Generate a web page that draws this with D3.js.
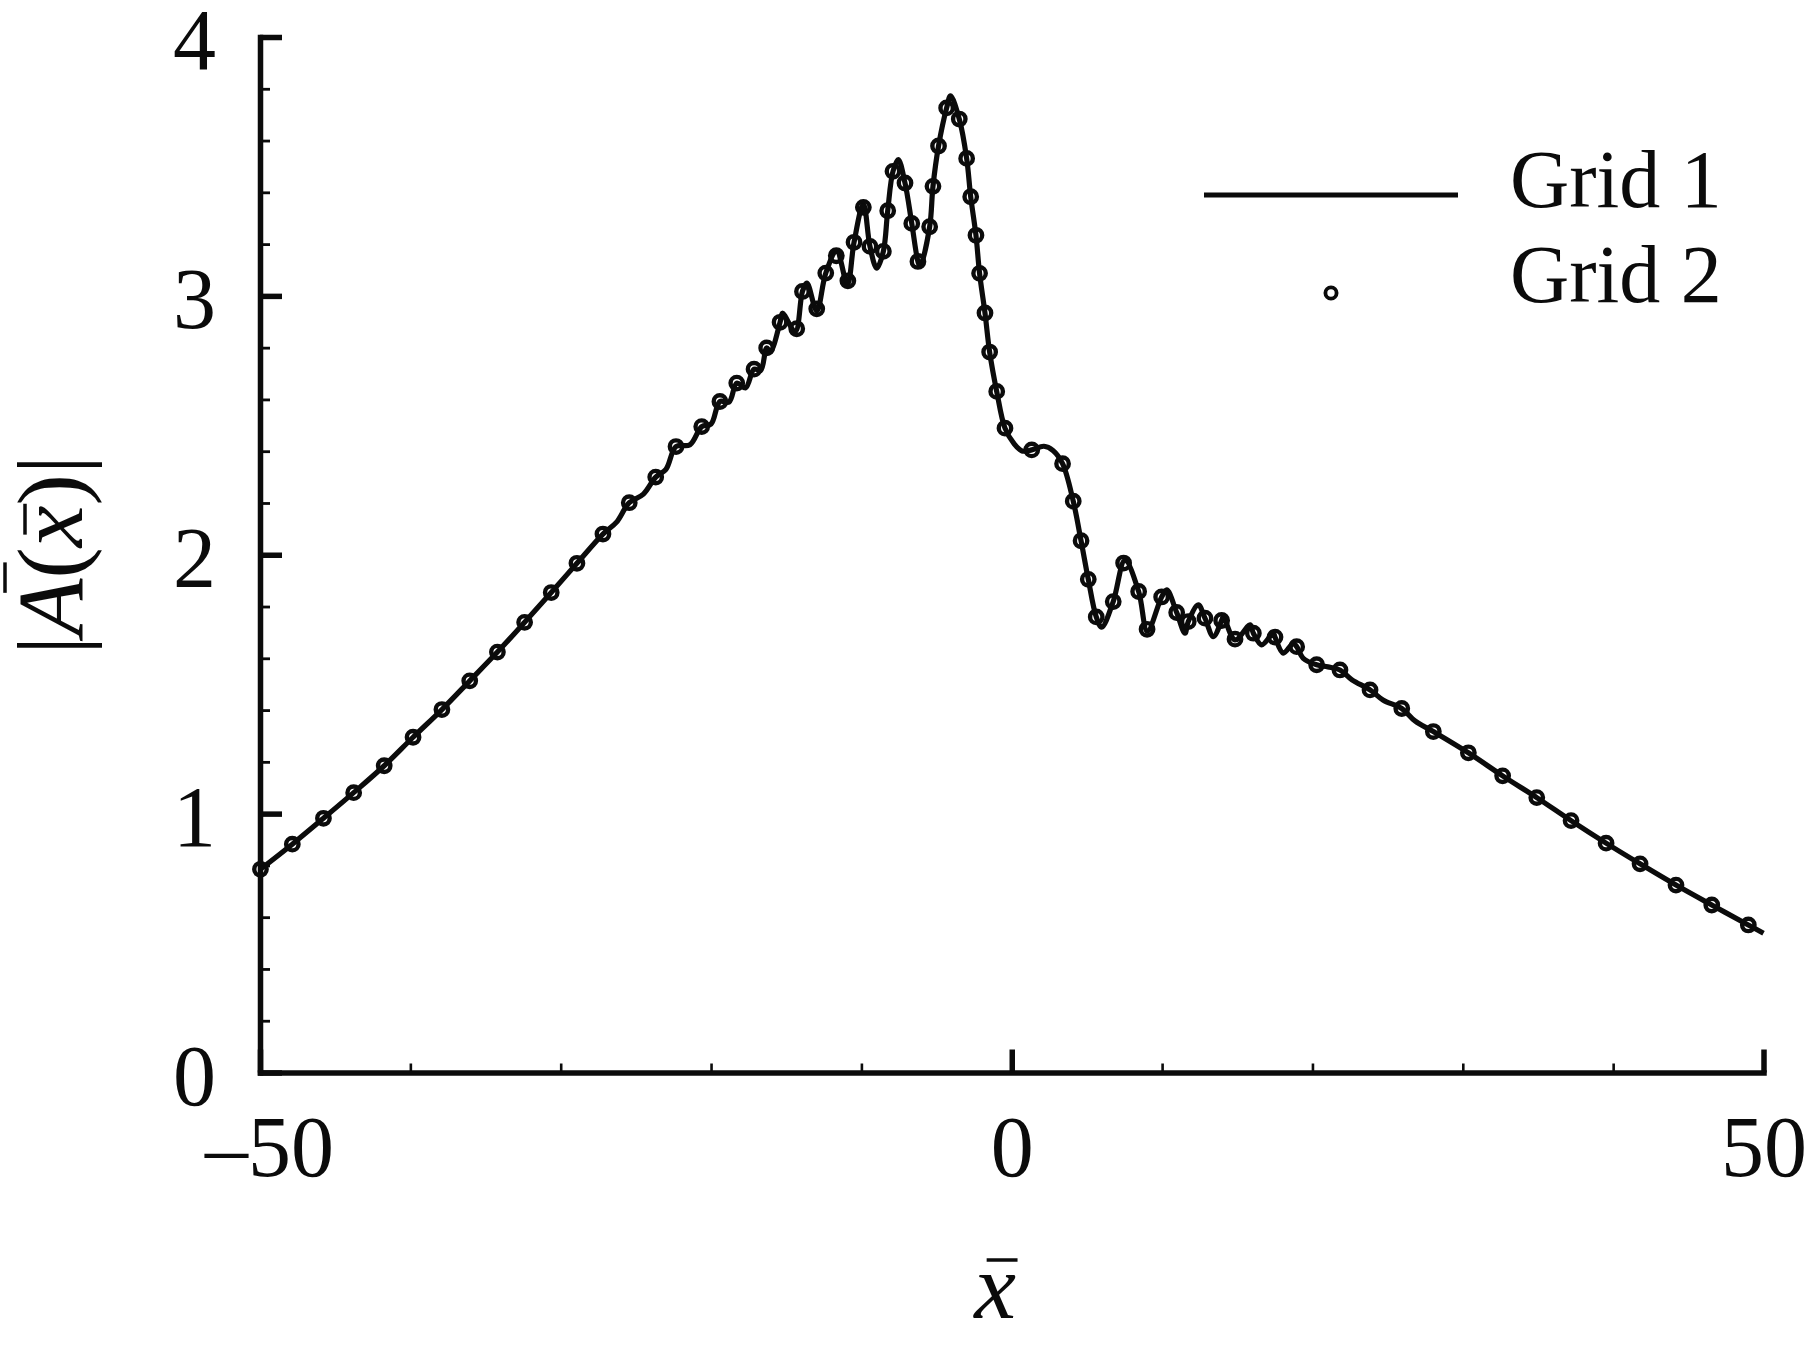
<!DOCTYPE html>
<html>
<head>
<meta charset="utf-8">
<script src="https://cdn.jsdelivr.net/npm/d3@7"></script>
<style>
  html, body { margin: 0; padding: 0; background: #fff; }
  svg { display: block; }
</style>
</head>
<body>
<svg id="chart" width="1805" height="1347"></svg>
<script>
// |A(x)| along x, two grids
const X_DOMAIN = [-50, 50];
const Y_DOMAIN = [0, 4];
const X_MAJOR = [-50, 0, 50];
const X_MINOR = [-40, -30, -20, -10, 10, 20, 30, 40];
const Y_MAJOR = [0, 1, 2, 3, 4];
const Y_MINOR = [0.2, 0.4, 0.6, 0.8, 1.2, 1.4, 1.6, 1.8, 2.2, 2.4, 2.6, 2.8, 3.2, 3.4, 3.6, 3.8];
const SERIES_NAMES = ['Grid 1', 'Grid 2'];

// Grid 1: continuous line
const GRID1 = [
  [-50.00, 0.784], [-47.85, 0.882], [-45.78, 0.982], [-43.77, 1.081], [-41.74, 1.185],
  [-39.82, 1.295], [-37.90, 1.402], [-36.05, 1.513], [-34.21, 1.624], [-32.40, 1.739],
  [-30.63, 1.854], [-28.92, 1.967], [-27.19, 2.080], [-26.30, 2.125], [-25.44, 2.201],
  [-24.50, 2.234], [-23.68, 2.300], [-23.00, 2.330], [-22.33, 2.418], [-21.40, 2.425],
  [-20.62, 2.495], [-20.00, 2.505], [-19.41, 2.592], [-18.80, 2.590], [-18.29, 2.663],
  [-17.70, 2.645], [-17.14, 2.717], [-16.70, 2.712], [-16.30, 2.799], [-16.05, 2.785],
  [-15.41, 2.898], [-15.25, 2.933], [-14.40, 2.862], [-13.92, 3.017], [-13.62, 3.049],
  [-12.97, 2.942], [-12.37, 3.088], [-11.65, 3.172], [-10.93, 3.045], [-10.49, 3.207],
  [-9.87, 3.355], [-9.43, 3.191], [-8.98, 3.107], [-8.54, 3.172], [-8.25, 3.329],
  [-7.90, 3.481], [-7.55, 3.526], [-7.10, 3.436], [-6.65, 3.280], [-6.24, 3.133],
  [-6.10, 3.114], [-5.46, 3.267], [-5.24, 3.423], [-4.87, 3.579], [-4.33, 3.726],
  [-4.07, 3.773], [-3.49, 3.683], [-3.00, 3.531], [-2.73, 3.383], [-2.38, 3.234],
  [-2.14, 3.087], [-1.78, 2.934], [-1.47, 2.783], [-1.00, 2.631], [-0.45, 2.489],
  [0.15, 2.429], [0.68, 2.401], [1.33, 2.405], [2.14, 2.419], [2.74, 2.403],
  [3.38, 2.352], [4.09, 2.207], [4.61, 2.054], [5.09, 1.905], [5.62, 1.760],
  [5.98, 1.720], [6.75, 1.819], [7.53, 1.978], [8.44, 1.858], [9.02, 1.705],
  [9.97, 1.837], [10.31, 1.864], [10.97, 1.777], [11.52, 1.697], [11.74, 1.742],
  [12.41, 1.806], [12.85, 1.755], [13.41, 1.684], [13.96, 1.746], [14.07, 1.759],
  [14.85, 1.671], [15.85, 1.729], [16.07, 1.697], [16.62, 1.652], [17.40, 1.697],
  [17.51, 1.682], [18.06, 1.620], [18.73, 1.658], [18.95, 1.645], [19.39, 1.600],
  [20.28, 1.575], [21.03, 1.567], [21.83, 1.555], [22.63, 1.517], [23.83, 1.478],
  [24.69, 1.439], [25.94, 1.406], [26.82, 1.358], [28.04, 1.317], [30.37, 1.235],
  [32.65, 1.146], [34.92, 1.062], [37.20, 0.973], [39.53, 0.886], [41.79, 0.806],
  [44.18, 0.724], [46.56, 0.647], [48.99, 0.570], [50.00, 0.538]
];

// Grid 2: symbols
const GRID2 = [
  [-49.97, 0.785], [-47.85, 0.882], [-45.78, 0.982], [-43.77, 1.081], [-41.74, 1.185],
  [-39.82, 1.295], [-37.90, 1.402], [-36.05, 1.513], [-34.21, 1.624], [-32.40, 1.739],
  [-30.63, 1.854], [-28.92, 1.967], [-27.19, 2.080], [-25.44, 2.201], [-23.68, 2.300],
  [-22.33, 2.418], [-20.62, 2.495], [-19.41, 2.592], [-18.29, 2.663], [-17.14, 2.717],
  [-16.30, 2.799], [-15.41, 2.898], [-14.30, 2.873], [-13.92, 3.017], [-12.97, 2.950],
  [-12.37, 3.088], [-11.67, 3.155], [-10.90, 3.058], [-10.49, 3.207], [-9.87, 3.342],
  [-9.43, 3.191], [-8.54, 3.172], [-8.25, 3.329], [-7.90, 3.481], [-7.10, 3.436],
  [-6.65, 3.280], [-6.24, 3.133], [-5.46, 3.267], [-5.24, 3.423], [-4.87, 3.579],
  [-4.33, 3.726], [-3.49, 3.683], [-3.00, 3.531], [-2.73, 3.383], [-2.38, 3.234],
  [-2.14, 3.087], [-1.78, 2.934], [-1.47, 2.783], [-1.00, 2.631], [-0.45, 2.489],
  [1.33, 2.405], [3.38, 2.352], [4.09, 2.207], [4.61, 2.054], [5.09, 1.905],
  [5.62, 1.760], [6.75, 1.819], [7.44, 1.968], [8.44, 1.858], [9.00, 1.712],
  [9.97, 1.837], [10.97, 1.777], [11.74, 1.742], [12.85, 1.755], [13.96, 1.746],
  [14.85, 1.674], [16.07, 1.697], [17.51, 1.682], [18.95, 1.645], [20.28, 1.575],
  [21.83, 1.555], [23.83, 1.478], [25.94, 1.406], [28.04, 1.317], [30.37, 1.235],
  [32.65, 1.146], [34.92, 1.062], [37.20, 0.973], [39.53, 0.886], [41.79, 0.806],
  [44.18, 0.724], [46.56, 0.647], [48.99, 0.570]
];

const FONT = '"Liberation Serif", "Times New Roman", serif';
const INK = '#0b0b0b';
const LEFT = 260, RIGHT = 1763.5, TOP = 37, BOTTOM = 1072.5;

const svg = d3.select('#chart');
svg.append('rect').attr('width', 1805).attr('height', 1347).attr('fill', '#fff');

const x = d3.scaleLinear().domain(X_DOMAIN).range([LEFT, RIGHT]);
const y = d3.scaleLinear().domain(Y_DOMAIN).range([BOTTOM, TOP]);

// minor ticks first, majors + labels on top
svg.append('g')
  .attr('transform', `translate(${LEFT},0)`)
  .call(d3.axisLeft(y).tickValues(Y_MINOR).tickSizeInner(-10).tickSizeOuter(0).tickFormat(''))
  .call(g => g.select('.domain').remove())
  .call(g => g.selectAll('line').attr('stroke', INK).attr('stroke-width', 2.8));

svg.append('g')
  .attr('transform', `translate(0,${BOTTOM})`)
  .call(d3.axisBottom(x).tickValues(X_MINOR).tickSizeInner(-9).tickSizeOuter(0).tickFormat(''))
  .call(g => g.select('.domain').remove())
  .call(g => g.selectAll('line').attr('stroke', INK).attr('stroke-width', 2.6));

const yAxis = svg.append('g')
  .attr('transform', `translate(${LEFT},0)`)
  .call(d3.axisLeft(y).tickValues(Y_MAJOR).tickSizeInner(-22).tickSizeOuter(0).tickPadding(44)
    .tickFormat(d3.format('d')));
yAxis.select('.domain').attr('stroke', INK).attr('stroke-width', 5.5).attr('stroke-linecap', 'square');
yAxis.selectAll('line').attr('stroke', INK).attr('stroke-width', 5.5);
yAxis.selectAll('text').attr('font-family', FONT).attr('font-size', 86).attr('fill', INK).attr('dy', '0.37em');

const xAxis = svg.append('g')
  .attr('transform', `translate(0,${BOTTOM})`)
  .call(d3.axisBottom(x).tickValues(X_MAJOR).tickSizeInner(-23).tickSizeOuter(0).tickPadding(42)
    .tickFormat(d => d < 0 ? '\u2013' + Math.abs(d) : String(d)));
xAxis.select('.domain').attr('stroke', INK).attr('stroke-width', 5.5).attr('stroke-linecap', 'square');
xAxis.selectAll('line').attr('stroke', INK).attr('stroke-width', 5.5);
xAxis.selectAll('text').attr('font-family', FONT).attr('font-size', 86).attr('fill', INK)
  .attr('dx', d => d < 0 ? 9 : 0);

// Grid 1 line
const line = d3.line()
  .x(d => x(d[0])).y(d => y(d[1]))
  .curve(d3.curveCatmullRom.alpha(0.5));

svg.append('path')
  .datum(GRID1)
  .attr('d', line)
  .attr('fill', 'none')
  .attr('stroke', INK)
  .attr('stroke-width', 5.2)
  .attr('stroke-linejoin', 'round');

// Grid 2 symbols
svg.append('g').selectAll('circle')
  .data(GRID2)
  .join('circle')
  .attr('cx', d => x(d[0]))
  .attr('cy', d => y(d[1]))
  .attr('r', 6.2)
  .attr('fill', 'none')
  .attr('stroke', INK)
  .attr('stroke-width', 4.4);

// legend
const lg = svg.append('g');
lg.append('line')
  .attr('x1', 1204).attr('x2', 1458).attr('y1', 195).attr('y2', 195)
  .attr('stroke', INK).attr('stroke-width', 5.2);
lg.append('circle')
  .attr('cx', 1331).attr('cy', 293).attr('r', 5.6)
  .attr('fill', 'none').attr('stroke', INK).attr('stroke-width', 3.8);
lg.selectAll('text')
  .data(SERIES_NAMES)
  .join('text')
  .attr('x', 1510)
  .attr('y', (d, i) => 207 + i * 95)
  .attr('font-family', FONT).attr('font-size', 82).attr('fill', INK)
  .text(d => d);

// helper: macron over a character of a text element
function macron(parent, textNode, idx, f0, f1, yOff) {
  const e = textNode.getExtentOfChar(idx);
  parent.append('line')
    .attr('x1', e.x + e.width * f0).attr('x2', e.x + e.width * f1)
    .attr('y1', yOff).attr('y2', yOff)
    .attr('stroke', INK).attr('stroke-width', 3.5);
}

// x axis title
const xt = svg.append('g').attr('transform', 'translate(995,1318)');
const xtText = xt.append('text')
  .attr('text-anchor', 'middle')
  .attr('font-family', FONT).attr('font-size', 94).attr('font-style', 'italic').attr('fill', INK)
  .text('x');
macron(xt, xtText.node(), 0, 0.3, 1.04, -58);

// y axis title |A(x)|
const yt = svg.append('g').attr('transform', 'translate(82,555) rotate(-90)');
const ytText = yt.append('text')
  .attr('text-anchor', 'middle')
  .attr('font-family', FONT).attr('font-size', 94).attr('fill', INK);
ytText.append('tspan').text('|');
ytText.append('tspan').attr('font-style', 'italic').text('A');
ytText.append('tspan').text('(');
ytText.append('tspan').attr('font-style', 'italic').text('x');
ytText.append('tspan').text(')');
ytText.append('tspan').text('|');
macron(yt, ytText.node(), 1, 0.75, 1.28, -77);
macron(yt, ytText.node(), 3, 0.3, 1.04, -57);
</script>
</body>
</html>
